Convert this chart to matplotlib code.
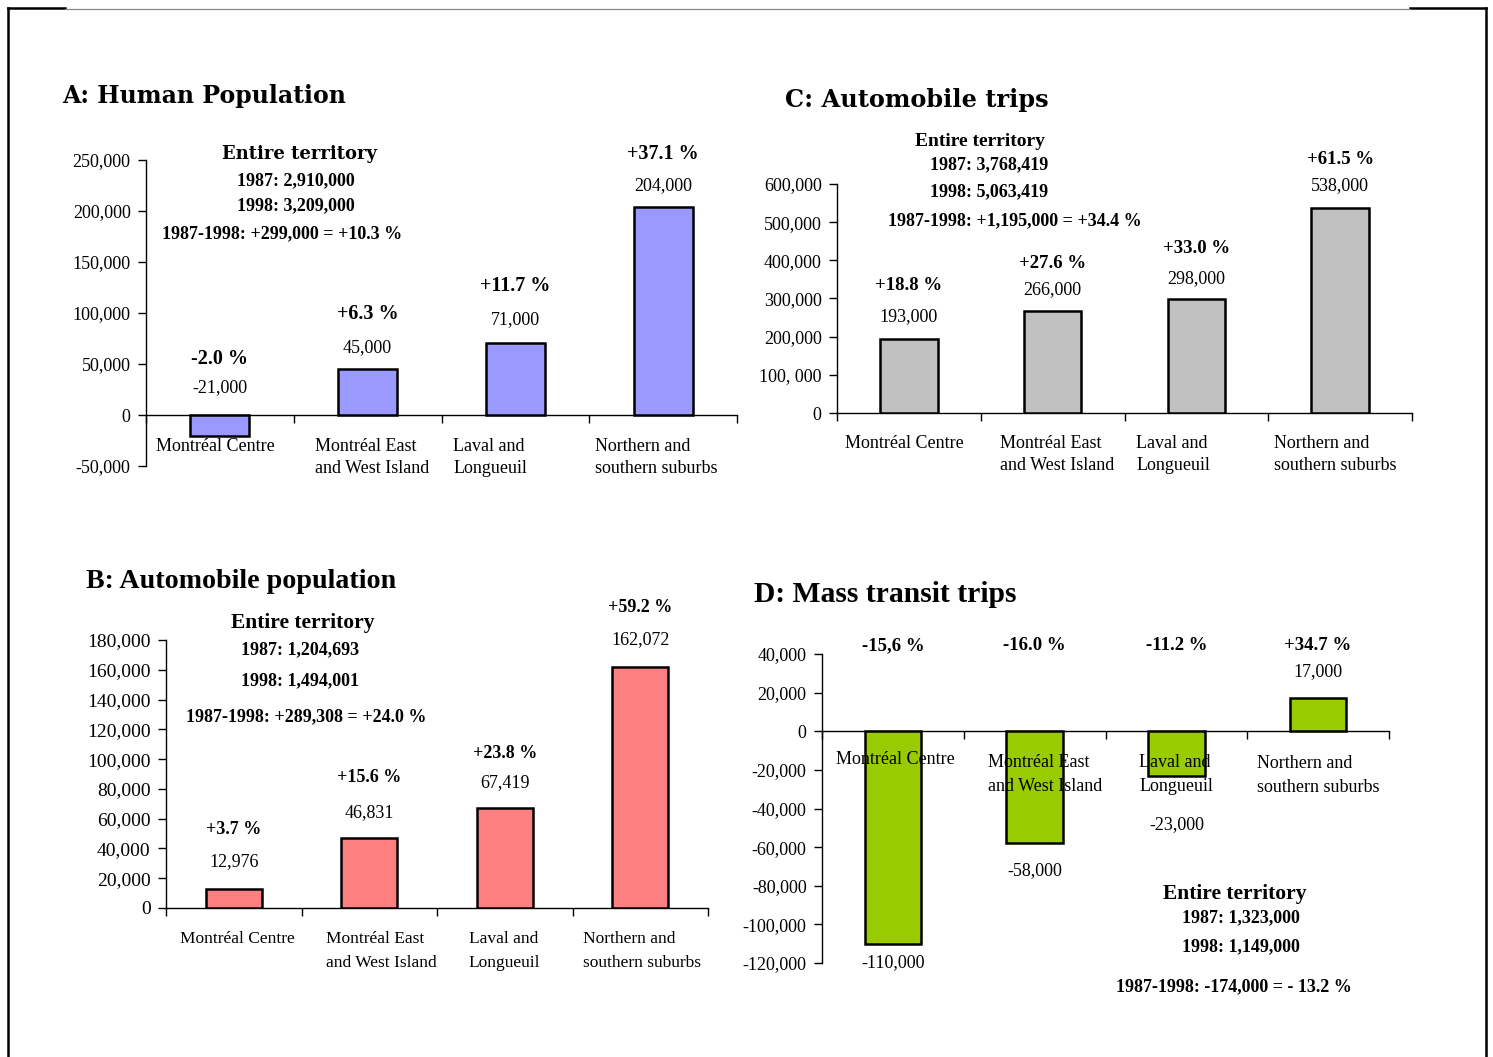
import matplotlib
matplotlib.use('Agg')
import matplotlib.pyplot as plt
from matplotlib.lines import Line2D

W, H = 1493, 1057
plt.rcParams['font.family'] = ['Liberation Serif', 'DejaVu Serif']
fig = plt.figure(figsize=(W / 100, H / 100), dpi=100)

categories = ["Montréal Centre", "Montréal East\nand West Island",
              "Laval and\nLongueuil", "Northern and\nsouthern suburbs"]

# A: Human population change 1987-1998
pop_values = [-21000, 45000, 71000, 204000]
pop_pct = ["-2.0 %", "+6.3 %", "+11.7 %", "+37.1 %"]
pop_labels = ["-21,000", "45,000", "71,000", "204,000"]
pop_ticks = [-50000, 0, 50000, 100000, 150000, 200000, 250000]
pop_ticklabels = ["-50,000", "0", "50,000", "100,000", "150,000", "200,000", "250,000"]
pop_total = ["Entire territory", "1987: 2,910,000", "1998: 3,209,000",
             "1987-1998: +299,000 = +10.3 %"]

# B: Automobile population change
car_values = [12976, 46831, 67419, 162072]
car_pct = ["+3.7 %", "+15.6 %", "+23.8 %", "+59.2 %"]
car_labels = ["12,976", "46,831", "67,419", "162,072"]
car_ticks = [0, 20000, 40000, 60000, 80000, 100000, 120000, 140000, 160000, 180000]
car_ticklabels = ["0", "20,000", "40,000", "60,000", "80,000", "100,000",
                  "120,000", "140,000", "160,000", "180,000"]
car_total = ["Entire territory", "1987: 1,204,693", "1998: 1,494,001",
             "1987-1998: +289,308 = +24.0 %"]

# C: Automobile trips change
trip_values = [193000, 266000, 298000, 538000]
trip_pct = ["+18.8 %", "+27.6 %", "+33.0 %", "+61.5 %"]
trip_labels = ["193,000", "266,000", "298,000", "538,000"]
trip_ticks = [0, 100000, 200000, 300000, 400000, 500000, 600000]
trip_ticklabels = ["0", "100, 000", "200,000", "300,000", "400,000", "500,000", "600,000"]
trip_total = ["Entire territory", "1987: 3,768,419", "1998: 5,063,419",
              "1987-1998: +1,195,000 = +34.4 %"]

# D: Mass transit trips change
transit_values = [-110000, -58000, -23000, 17000]
transit_pct = ["-15,6 %", "-16.0 %", "-11.2 %", "+34.7 %"]
transit_labels = ["-110,000", "-58,000", "-23,000", "17,000"]
transit_ticks = [-120000, -100000, -80000, -60000, -40000, -20000, 0, 20000, 40000]
transit_ticklabels = ["-120,000", "-100,000", "-80,000", "-60,000", "-40,000",
                      "-20,000", "0", "20,000", "40,000"]
transit_total = ["Entire territory", "1987: 1,323,000", "1998: 1,149,000",
                 "1987-1998: -174,000 = - 13.2 %"]


def axes_px(x0, x1, ytop, ybot):
    return fig.add_axes([x0 / W, 1 - ybot / H, (x1 - x0) / W, (ybot - ytop) / H])


def ftext(x, y, s, **kw):
    fig.text(x / W, 1 - (y + 2) / H, s, **kw)


def panel(ax, values, color, ylim, ticks, ticklabels, tickfs, catfs,
          cat_offsets, cat_dy, cat_ls, width):
    n = len(values)
    x = list(range(n))
    ax.bar(x, values, width=width, color=color, edgecolor='black',
           linewidth=1.8, zorder=3)
    ax.set_xlim(-0.5, n - 0.5)
    ax.set_ylim(*ylim)
    ax.set_yticks(ticks)
    ax.set_yticklabels(ticklabels, fontsize=tickfs)
    ax.spines['top'].set_visible(False)
    ax.spines['right'].set_visible(False)
    ax.spines['bottom'].set_position(('data', 0))
    ax.spines['left'].set_linewidth(1.0)
    ax.spines['bottom'].set_linewidth(1.0)
    ax.set_xticks([i - 0.5 for i in range(n + 1)])
    ax.set_xticklabels([])
    ax.tick_params(axis='x', direction='out', length=6, width=1.0)
    ax.tick_params(axis='y', direction='out', length=6, width=1.0, pad=5)
    ax.patch.set_alpha(0)
    for i, cat in enumerate(categories):
        ax.annotate(cat, xy=(i, 0), xytext=(cat_offsets[i], -cat_dy[i]),
                    textcoords='offset pixels', ha='left', va='top',
                    fontsize=catfs, linespacing=cat_ls, annotation_clip=False,
                    zorder=5)


def bar_labels(ax, values, labels, pcts, val_off, pct_off, valfs, pctfs):
    for i, v in enumerate(values):
        base = max(v, 0)
        ax.annotate(labels[i], xy=(i, base), xytext=(0, val_off[i]),
                    textcoords='offset pixels', ha='center', va='center', fontsize=valfs)
        ax.annotate(pcts[i], xy=(i, base), xytext=(0, pct_off[i]),
                    textcoords='offset pixels', ha='center', va='center',
                    fontsize=pctfs, fontweight='bold')


# ---------- Panel A ----------
axA = axes_px(146, 737, 160, 466)
panel(axA, pop_values, '#9999FF', (-50000, 250000), pop_ticks, pop_ticklabels,
      13, 13, [-64, -53, -62, -68], [23, 23, 23, 23], 1.39, 0.4)
bar_labels(axA, pop_values, pop_labels, pop_pct, [27.5, 21.5, 22.5, 21.5],
           [56, 55, 57, 53], 13, 14.5)
ftext(62, 94, "A: Human Population", fontsize=17, fontweight='bold',
      family='DejaVu Serif', va='center', ha='left')
ftext(299, 152, pop_total[0], fontsize=13, fontweight='bold', family='DejaVu Serif',
      ha='center', va='center')
ftext(296, 179, pop_total[1], fontsize=13, fontweight='bold', ha='center', va='center')
ftext(296, 204, pop_total[2], fontsize=13, fontweight='bold', ha='center', va='center')
ftext(282, 232, pop_total[3], fontsize=13, fontweight='bold', ha='center', va='center')

# ---------- Panel C ----------
axC = axes_px(837, 1412, 184, 413)
panel(axC, trip_values, '#C0C0C0', (0, 600000), trip_ticks, trip_ticklabels,
      13, 13, [-64, -53, -60, -66], [22, 22, 22, 22], 1.39, 0.4)
bar_labels(axC, trip_values, trip_labels, trip_pct, [23, 22, 21, 22],
           [54, 48, 51, 48], 13, 13.5)
ftext(785, 98, "C: Automobile trips", fontsize=17.3, fontweight='bold',
      family='DejaVu Serif', va='center', ha='left')
ftext(980, 139, trip_total[0], fontsize=14, fontweight='bold', ha='center', va='center')
ftext(989, 163, trip_total[1], fontsize=13, fontweight='bold', ha='center', va='center')
ftext(989, 190, trip_total[2], fontsize=13, fontweight='bold', ha='center', va='center')
ftext(1015, 219, trip_total[3], fontsize=13, fontweight='bold', ha='center', va='center')

# ---------- Panel B ----------
axB = axes_px(166, 708, 640, 908)
panel(axB, car_values, '#FF8080', (0, 180000), car_ticks, car_ticklabels,
      14, 12.5, [-54, -43, -36, -57], [23, 23, 23, 23], 1.65, 0.41)
bar_labels(axB, car_values, car_labels, car_pct, [27, 26, 25, 27],
           [59, 61, 54, 59], 13, 13)
ftext(86, 579, "B: Automobile population", fontsize=20.2, fontweight='bold',
      va='center', ha='left')
ftext(303, 621, car_total[0], fontsize=15.5, fontweight='bold', ha='center', va='center')
ftext(300, 648, car_total[1], fontsize=13, fontweight='bold', ha='center', va='center')
ftext(300, 679, car_total[2], fontsize=13, fontweight='bold', ha='center', va='center')
ftext(306, 715, car_total[3], fontsize=13, fontweight='bold', ha='center', va='center')

# ---------- Panel D ----------
axD = axes_px(822, 1389, 654, 963)
panel(axD, transit_values, '#99CC00', (-120000, 40000), transit_ticks, transit_ticklabels,
      13, 13, [-57, -47, -37, -61], [20, 23, 23, 24], 1.52, 0.4)
transit_offsets = [-19, -27, -49, 27]
for i, v in enumerate(transit_values):
    axD.annotate(transit_labels[i], xy=(i, v), xytext=(0, transit_offsets[i]),
                 textcoords='offset pixels', ha='center', va='center', fontsize=13)
    axD.annotate(transit_pct[i], xy=(i, 40000), xytext=(0, 8), textcoords='offset pixels',
                 ha='center', va='center', fontsize=13.5, fontweight='bold',
                 annotation_clip=False)
ftext(754, 592, "D: Mass transit trips", fontsize=21.3, fontweight='bold',
      va='center', ha='left')
ftext(1235, 892, transit_total[0], fontsize=15.5, fontweight='bold', ha='center', va='center')
ftext(1241, 916, transit_total[1], fontsize=13, fontweight='bold', ha='center', va='center')
ftext(1241, 945, transit_total[2], fontsize=13, fontweight='bold', ha='center', va='center')
ftext(1234, 985, transit_total[3], fontsize=13, fontweight='bold', ha='center', va='center')

# ---------- Page frame ----------
def fline(xs, ys, **kw):
    fig.add_artist(Line2D([x / W for x in xs], [1 - y / H for y in ys], **kw))

fline([8, 8], [8, 1057], color='black', linewidth=1.8)
fline([1486, 1486], [8, 1057], color='black', linewidth=1.8)
fline([8, 65], [8, 8], color='black', linewidth=1.8)
fline([1410, 1486], [8, 8], color='black', linewidth=1.8)
fline([65, 1410], [9, 9], color='#888888', linewidth=0.9)

fig.savefig('out.png', dpi=100)
